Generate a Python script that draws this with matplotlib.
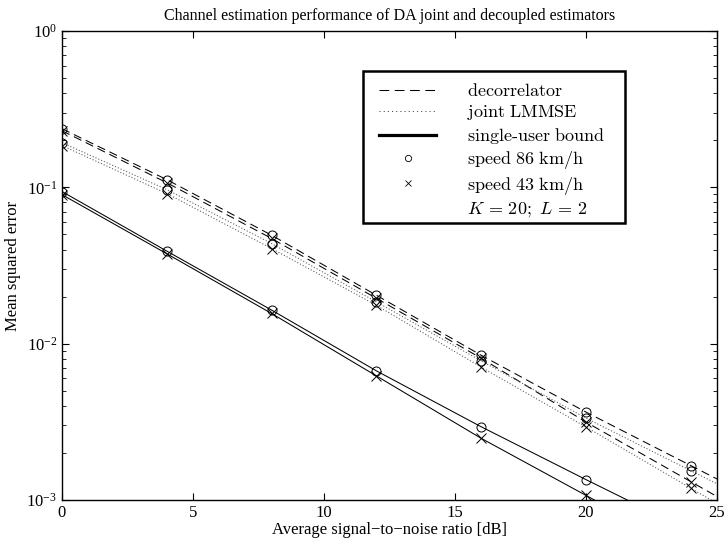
import matplotlib
matplotlib.use("Agg")
import matplotlib.pyplot as plt
from matplotlib.lines import Line2D
from matplotlib.patches import Rectangle
import numpy as np

plt.rcParams['font.family'] = ['Liberation Serif', 'DejaVu Serif']
plt.rcParams['mathtext.fontset'] = 'cm'
plt.rcParams['lines.scale_dashes'] = False

snr = [0, 4, 8, 12, 16, 20, 24, 28]
dec86 = [0.237, 0.112, 0.0494, 0.0204, 0.00843, 0.00365, 0.00166, 0.000755]
dec43 = [0.230, 0.107, 0.0471, 0.0195, 0.00807, 0.00315, 0.00131, 0.000545]
lmmse86 = [0.193, 0.0967, 0.0437, 0.0185, 0.00776, 0.00334, 0.00154, 0.000711]
lmmse43 = [0.185, 0.0912, 0.0406, 0.0176, 0.00707, 0.00293, 0.00119, 0.000482]
su86 = [0.094, 0.0391, 0.0164, 0.0067, 0.00294, 0.00135, 0.00063, 0.000295]
su43 = [0.0898, 0.0376, 0.0156, 0.00622, 0.00248, 0.00107, 0.00046, 0.0002]

title = "Channel estimation performance of DA joint and decoupled estimators"
xlabel = "Average signal\u2212to\u2212noise ratio [dB]"
ylabel = "Mean squared error"
legend_labels = [r"$\mathrm{decorrelator}$", r"$\mathrm{joint\ LMMSE}$",
                 r"$\mathrm{single\text{-}user\ bound}$", r"$\mathrm{speed\ 86\ km/h}$",
                 r"$\mathrm{speed\ 43\ km/h}$", r"$K\,=\,20;\ L\,=\,2$"]

W, H = 728, 544
fig = plt.figure(figsize=(W / 100, H / 100), dpi=100)
ax = fig.add_axes([62 / W, 44 / H, 655 / W, 469 / H])

dash = (0, (6, 3.5))
dot = (0, (0.8, 1.4))
lw = 0.75
ms = 6.5
mew = 0.7

series = [
    (dec86, dash, 'k', 'o'),
    (dec43, dash, 'k', 'x'),
    (lmmse86, dot, '0.35', 'o'),
    (lmmse43, dot, '0.35', 'x'),
    (su86, '-', 'k', 'o'),
    (su43, '-', 'k', 'x'),
]
for vals, ls, col, mk in series:
    ax.plot(snr, vals, linestyle=ls, color=col, linewidth=lw)
    ax.plot(snr, vals, linestyle='none', marker=mk, markersize=ms,
            markerfacecolor='none', markeredgecolor='k', markeredgewidth=mew)

ax.set_yscale('log')
ax.set_xlim(0, 25)
ax.set_ylim(1e-3, 1)
ax.set_xticks([0, 5, 10, 15, 20, 25])
ax.tick_params(which='both', direction='in', top=True, right=True, labelsize=12)
ax.tick_params(which='major', length=5, width=0.8)
ax.tick_params(which='minor', length=3, width=0.6)
for s in ax.spines.values():
    s.set_linewidth(1.0)

ax.set_title(title, fontsize=11.5, pad=8)
ax.set_xlabel(xlabel, fontsize=12, labelpad=1)
ax.set_ylabel(ylabel, fontsize=12, labelpad=4)

# legend frame
box = Rectangle((363 / W, 1 - 223 / H), 262 / W, 152 / H, transform=fig.transFigure,
                facecolor='white', edgecolor='k', linewidth=1.8, zorder=4)
ax.add_artist(box)
box.set_clip_on(False)

handles = [
    Line2D([], [], linestyle=(0, (7, 4)), color='k', linewidth=lw),
    Line2D([], [], linestyle=(0, (0.8, 2.2)), color='0.3', linewidth=lw),
    Line2D([], [], linestyle='-', color='k', linewidth=2.3),
    Line2D([], [], linestyle='none', marker='o', markersize=4.5, markerfacecolor='none',
           markeredgecolor='k', markeredgewidth=0.6),
    Line2D([], [], linestyle='none', marker='x', markersize=4.5, markeredgecolor='k',
           markeredgewidth=0.6),
    Line2D([], [], linestyle='none'),
]
leg = ax.legend(handles, legend_labels, loc='upper left',
                bbox_to_anchor=(379 / W, 1 - 83 / H), bbox_transform=fig.transFigure,
                fontsize=13, frameon=False,
                handlelength=3.16, handletextpad=1.7, borderpad=0,
                labelspacing=0.19, borderaxespad=0)
leg.set_zorder(5)

fig.savefig("out.png", dpi=100)
